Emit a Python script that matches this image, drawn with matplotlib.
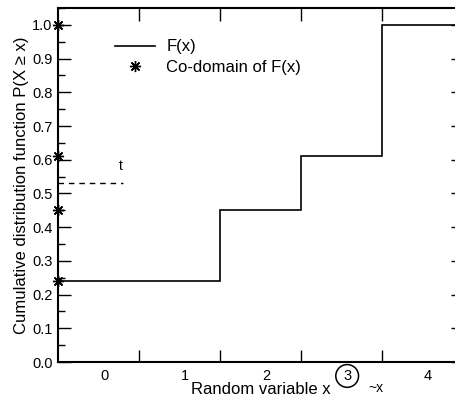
import matplotlib.pyplot as plt
from matplotlib.ticker import MultipleLocator, FixedLocator

plt.rcParams['font.family'] = ['Liberation Sans', 'DejaVu Sans']

# --- Data ---
step_edges = [-0.5, 1.5, 2.5, 3.5, 4.5]
cdf_values = [0.24, 0.45, 0.61, 1.0]
codomain = [0.24, 0.45, 0.61, 1.0]
x_labels = ['0', '1', '2', '3', '4']
t_level = 0.53

fig = plt.figure(figsize=(4.55, 4.01), dpi=100)
ax = fig.add_axes([58 / 455, 39 / 401, 405 / 455, 354 / 401])

ax.stairs(cdf_values, step_edges, baseline=None, color='black', lw=1.2,
          label='F(x)')
ax.plot([step_edges[0]] * len(codomain), codomain, linestyle='none',
        marker=(8, 2, 0), markersize=8, color='black', mew=1.0,
        clip_on=False, zorder=5, label='Co-domain of F(x)')

# threshold t
ax.plot([-0.5, 0.3], [t_level, t_level], color='black', lw=1.0,
        dashes=(4, 3.5))
ax.text(0.27, t_level + 0.03, 't', fontsize=10, ha='center', va='bottom')

ax.set_xlim(-0.5, 4.5)
ax.set_ylim(0, 1.05)

# ticks at half-integers, labels near integers
ax.xaxis.set_major_locator(FixedLocator([0.5, 1.5, 2.5, 3.5]))
ax.xaxis.set_minor_locator(FixedLocator([i + 0.07 for i in range(len(x_labels))]))
ax.xaxis.set_major_formatter(plt.NullFormatter())
ax.set_xticklabels(x_labels, minor=True)
ax.tick_params(axis='x', which='minor', length=0, pad=5, labelsize=10.5)
ax.tick_params(axis='x', which='major', direction='in', length=9, width=1,
               top=True)

ax.yaxis.set_major_locator(MultipleLocator(0.1))
ax.yaxis.set_minor_locator(MultipleLocator(0.05))
ax.yaxis.set_major_formatter(plt.FuncFormatter(lambda v, p: f'{v:.1f}'))
ax.tick_params(axis='y', which='major', direction='in', length=9, width=1,
               right=True, labelsize=10.5, pad=4)
ax.tick_params(axis='y', which='minor', direction='in', length=5, width=1,
               right=True)

for s in ax.spines.values():
    s.set_linewidth(1.5)

# circle the 3
for lab in ax.xaxis.get_minorticklabels():
    if lab.get_text() == '3':
        lab.set_bbox(dict(boxstyle='circle,pad=0.3', fc='none', ec='black',
                          lw=1.1))
ax.text(3.33, -0.055, '~x', fontsize=10, ha='left', va='top',
        transform=ax.transData, clip_on=False)

ax.set_xlabel('Random variable x', fontsize=12, labelpad=-1)
ax.set_ylabel('Cumulative distribution function P(X \u2265 x)', fontsize=12,
              labelpad=2)

ax.legend(loc='upper left', bbox_to_anchor=(0.125, 0.93), frameon=False,
          fontsize=12, handlelength=2.4, handletextpad=0.65, labelspacing=0.35,
          borderaxespad=0)

fig.savefig('out.png', dpi=100)
